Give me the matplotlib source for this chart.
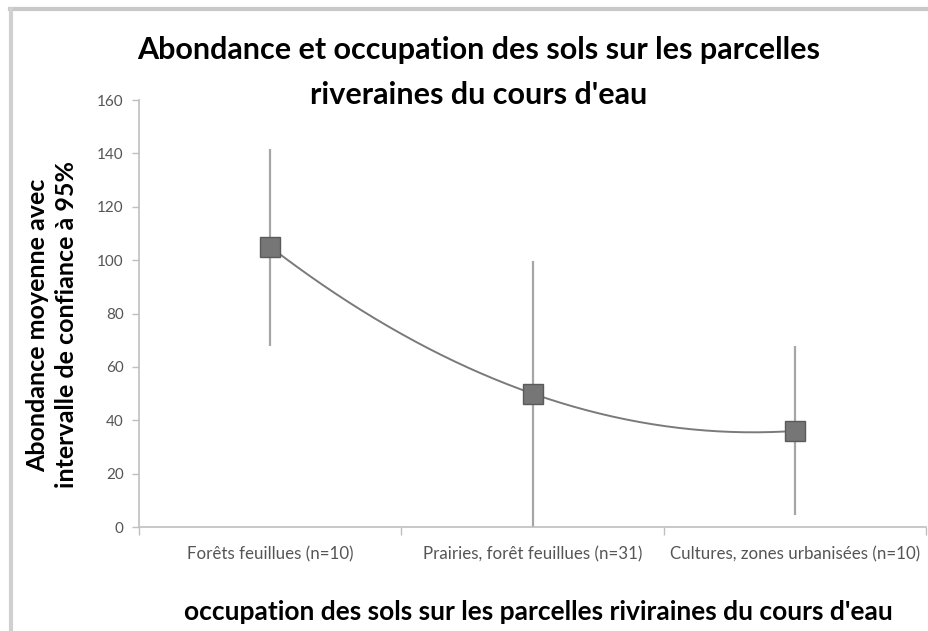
import matplotlib
matplotlib.use("Agg")
import matplotlib.pyplot as plt
import numpy as np

# Data
categories = [
    "Forêts feuillues (n=10)",
    "Prairies, forêt feuillues (n=31)",
    "Cultures, zones urbanisées (n=10)",
]
means = [105, 50, 36]
ci_low = [68, 0, 4.5]
ci_high = [141.5, 99.5, 68]

plt.rcParams["font.family"] = ["Lato", "DejaVu Sans"]

fig = plt.figure(figsize=(9.29, 6.31), dpi=100)
ax = fig.add_axes([0.1496, 0.1648, 0.8472, 0.6767])

x = np.arange(len(categories))
y = np.array(means)
lo = y - np.array(ci_low)
hi = np.array(ci_high) - y

# smoothed trend through the means
coef = np.polyfit(x, y, 2)
xs = np.linspace(x[0], x[-1], 200)
ax.plot(xs, np.polyval(coef, xs), color="#7a7a7a", lw=1.4, zorder=2)

ax.errorbar(x, y, yerr=[lo, hi], fmt="none", ecolor="#a6a6a6",
            elinewidth=1.6, capsize=0, zorder=1)
ax.plot(x, y, linestyle="none", marker="s", markersize=14,
        markerfacecolor="#767676", markeredgecolor="#5a5a5a",
        markeredgewidth=1, zorder=3)

ax.set_xlim(-0.5, len(categories) - 0.5)
ax.set_ylim(0, 160)
ax.set_yticks(np.arange(0, 161, 20))
ax.tick_params(axis="y", labelsize=11, labelcolor="#555555", color="#bfbfbf",
               length=5, width=1, direction="out", pad=6)

ax.set_xticks(x)
ax.set_xticklabels(categories, fontsize=12.2, color="#555555")
ax.tick_params(axis="x", length=0, pad=14)
ax.set_xticks(np.arange(-0.5, len(categories), 1), minor=True)
ax.tick_params(axis="x", which="minor", length=6, color="#bfbfbf", width=1)

for side in ("top", "right"):
    ax.spines[side].set_visible(False)
for side in ("left", "bottom"):
    ax.spines[side].set_color("#bfbfbf")
    ax.spines[side].set_linewidth(1.2)

fig.text(0.515, 0.92, "Abondance et occupation des sols sur les parcelles",
         ha="center", va="center", fontsize=22, fontweight="bold")
fig.text(0.515, 0.85, "riveraines du cours d'eau",
         ha="center", va="center", fontsize=22, fontweight="bold")

fig.text(0.04, 0.485, "Abondance moyenne avec", rotation=90,
         ha="center", va="center", fontsize=18, fontweight="bold")
fig.text(0.072, 0.485, "intervalle de confiance à 95%", rotation=90,
         ha="center", va="center", fontsize=18, fontweight="bold")

fig.text(0.58, 0.03, "occupation des sols sur les parcelles riviraines du cours d'eau",
         ha="center", va="center", fontsize=19, fontweight="bold")

# light frame at top/left like the source screenshot
fig.add_artist(plt.Line2D([0.0105, 1], [0.986, 0.986], color="#c8c8c8", lw=3,
                          transform=fig.transFigure))
fig.add_artist(plt.Line2D([0.0115, 0.0115], [0, 0.986], color="#d0d0d0", lw=3,
                          transform=fig.transFigure))

fig.savefig("out.png", dpi=100, facecolor="white")
